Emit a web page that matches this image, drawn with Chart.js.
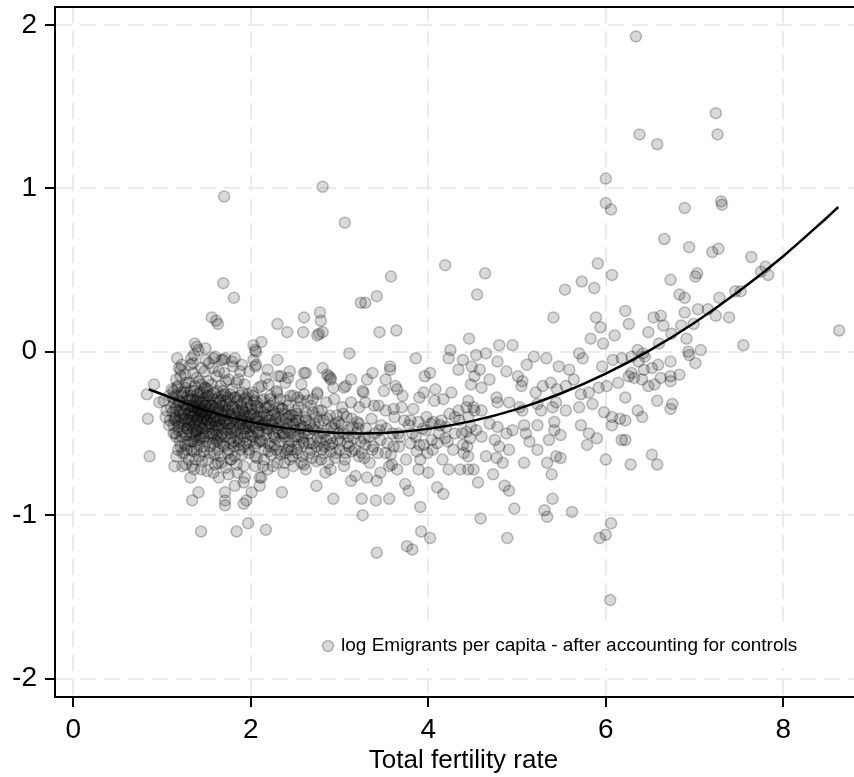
<!DOCTYPE html>
<html>
<head>
<meta charset="utf-8">
<script src="https://cdn.jsdelivr.net/npm/chart.js@4.4.1/dist/chart.umd.min.js"></script>
<style>
  html, body { margin: 0; padding: 0; background: #fff; overflow: hidden; }
  #wrap { width: 854px; height: 777px; overflow: hidden; }
  canvas { display: block; }
</style>
</head>
<body>
<div id="wrap"><canvas id="chart" width="879" height="777"></canvas></div>
<script>
// fitted quadratic
const fitX = [0.85, 1.0, 1.5, 2.0, 2.5, 3.0, 3.5, 4.0, 4.5, 5.0, 5.5, 6.0, 6.5, 7.0, 7.5, 8.0, 8.5, 8.62];
const fitY = [-0.23, -0.26, -0.36, -0.43, -0.475, -0.497, -0.497, -0.472, -0.423, -0.351, -0.254, -0.134, 0.01, 0.178, 0.37, 0.585, 0.825, 0.886];

// points that can be picked out one by one
const spreadPoints = [
  [6.34,1.93],[7.24,1.46],[7.26,1.33],[6.38,1.33],[6.58,1.27],[6.0,1.06],[6.0,0.91],[6.06,0.87],[6.89,0.88],[7.3,0.92],[7.31,0.9],
  [6.66,0.69],[6.94,0.64],[7.2,0.61],[7.27,0.63],[7.64,0.58],[7.8,0.52],[7.75,0.49],[7.83,0.47],[5.91,0.54],[5.73,0.43],[5.87,0.39],
  [5.54,0.38],[6.07,0.47],[6.73,0.44],[7.03,0.48],[7.01,0.46],[6.83,0.35],[6.89,0.33],[7.28,0.33],[7.46,0.37],[7.52,0.37],
  [6.54,0.21],[6.62,0.22],[6.89,0.24],[7.04,0.26],[7.15,0.26],[7.24,0.22],[7.39,0.21],[6.26,0.17],[6.22,0.25],[6.65,0.16],[6.48,0.12],
  [6.74,0.11],[6.85,0.16],[6.99,0.17],[6.91,0.08],[7.07,0.01],[6.93,0.0],[6.94,-0.02],[7.01,-0.07],[7.55,0.04],[8.63,0.13],[6.6,0.05],
  [6.36,0.01],[6.42,-0.01],[6.44,-0.03],[6.73,-0.06],[6.59,-0.08],[6.52,-0.1],[6.43,-0.11],[6.29,-0.13],[6.32,-0.16],[6.26,-0.15],
  [6.62,-0.16],[6.73,-0.15],[6.83,-0.14],[6.73,-0.18],[6.55,-0.2],[6.48,-0.21],[6.22,-0.28],[6.58,-0.3],[6.75,-0.32],[6.73,-0.35],
  [6.36,-0.36],[6.41,-0.4],[6.22,-0.42],[6.22,-0.54],[6.52,-0.63],[6.58,-0.69],[6.28,-0.69],
  [4.64,0.48],[4.55,0.35],[5.41,0.21],[5.89,0.21],[5.94,0.15],[4.46,0.08],[4.8,0.04],[4.95,0.04],[5.83,0.08],[5.97,0.05],[6.1,0.1],
  [4.54,-0.02],[4.65,-0.01],[4.78,-0.06],[5.11,-0.08],[5.19,-0.03],[5.33,-0.04],[5.47,-0.09],[5.59,-0.11],[5.7,-0.01],[5.74,-0.04],
  [5.96,-0.09],[6.08,-0.05],[6.18,-0.04],[6.29,-0.03],[6.37,-0.06],[4.49,-0.09],[4.58,-0.11],[4.88,-0.12],[5.01,-0.15],[4.48,-0.2],
  [4.6,-0.22],[4.69,-0.17],[5.06,-0.18],[5.05,-0.21],[5.21,-0.25],[5.29,-0.21],[5.38,-0.19],[5.45,-0.23],[5.55,-0.21],[5.64,-0.17],
  [5.72,-0.26],[5.81,-0.25],[5.92,-0.22],[6.01,-0.21],[6.14,-0.19],[6.41,-0.17],[4.77,-0.28],[4.78,-0.31],[4.51,-0.34],[4.6,-0.36],
  [4.91,-0.31],[5.03,-0.34],[5.06,-0.36],[5.23,-0.32],[5.27,-0.36],[5.4,-0.34],[5.44,-0.31],[5.55,-0.36],[5.7,-0.34],[5.85,-0.32],
  [5.98,-0.37],[6.07,-0.4],[4.45,-0.4],[4.54,-0.48],[4.43,-0.49],[4.69,-0.44],[4.78,-0.46],[4.88,-0.5],[4.95,-0.48],[5.08,-0.45],
  [5.1,-0.5],[5.23,-0.45],[5.42,-0.43],[5.42,-0.48],[5.72,-0.45],[5.81,-0.5],[5.9,-0.53],[6.07,-0.45],[6.16,-0.41],[6.18,-0.54],
  [4.6,-0.52],[4.75,-0.54],[4.8,-0.58],[4.91,-0.6],[5.14,-0.55],[5.23,-0.6],[5.36,-0.54],[5.49,-0.51],[5.44,-0.64],[5.49,-0.65],
  [5.79,-0.57],[6.0,-0.66],[4.45,-0.64],[4.65,-0.64],[4.77,-0.65],[4.84,-0.68],[4.51,-0.72],[4.56,-0.8],[4.73,-0.75],[5.08,-0.68],
  [5.34,-0.68],[5.39,-0.75],[4.86,-0.82],[4.91,-0.85],[4.97,-0.96],[5.31,-0.97],[5.34,-1.01],[5.4,-0.9],[5.62,-0.98],[4.59,-1.02],[6.06,-1.05],
  [1.44,-1.1],[1.84,-1.1],[1.97,-1.05],[2.17,-1.09],[2.93,-0.9],[3.25,-0.9],[3.26,-1.0],[3.41,-0.91],[3.56,-0.9],[3.91,-0.95],
  [3.42,-1.23],[3.76,-1.19],[3.82,-1.21],[3.92,-1.1],[4.02,-1.14],[4.89,-1.14],[5.93,-1.14],[6.0,-1.12],[6.05,-1.52],[2.91,-1.73],
  [1.7,0.95],[2.81,1.01],[3.06,0.79],[4.19,0.53],[3.58,0.46],[1.69,0.42],
  [1.81,0.33],[1.56,0.21],[1.61,0.19],[1.63,0.17],[2.3,0.17],[2.41,0.12],[2.59,0.12],[2.6,0.21],[2.12,0.06],[2.03,0.04],[2.05,0.01],
  [2.03,-0.05],[1.37,0.05],[1.41,0.01],[1.49,0.02],[1.17,-0.04],[1.33,-0.04],[1.19,-0.1],[1.49,-0.05],[1.6,-0.03],[1.71,-0.04],
  [1.82,-0.04],[1.9,-0.08],[2.19,-0.11],[2.34,-0.15],[2.42,-0.16],[0.91,-0.2],[0.83,-0.26],[1.11,-0.23],[0.84,-0.41],[1.08,-0.45],
  [0.86,-0.64],[1.14,-0.7],[1.32,-0.77],[1.41,-0.86],[1.34,-0.91],[1.23,-0.62],[1.36,-0.61],[1.63,-0.68],[1.64,-0.77],[1.75,-0.75],
  [1.82,-0.82],[1.93,-0.77],[1.71,-0.86],[1.71,-0.91],[1.71,-0.94],[1.92,-0.93],[1.95,-0.91],[2.01,-0.86],[2.1,-0.82],[2.1,-0.77],
  [2.19,-0.72],[2.35,-0.86],
  [1.39,0.03],[2.06,0.0],[1.58,-0.04],[1.69,-0.05],[2.05,-0.09],[2.31,-0.15],[2.6,-0.13],[2.9,-0.16],[2.86,-0.14],[3.05,-0.22],
  [2.59,-0.46],[2.05,-0.7],[1.92,-0.8],
  [3.24,0.3],[3.29,0.3],[3.42,0.34],[2.78,0.24],[2.79,0.19],[2.75,0.1],[2.77,0.11],[2.81,0.12],[3.45,0.12],[3.64,0.13],[3.11,-0.01],
  [3.86,-0.04],[4.25,0.01],[4.23,-0.04],[4.39,-0.05],[4.34,-0.11],[2.62,-0.13],[2.81,-0.1],[2.88,-0.15],[2.9,-0.17],[3.07,-0.21],
  [3.13,-0.17],[3.26,-0.24],[3.31,-0.17],[3.37,-0.13],[3.52,-0.17],[3.57,-0.09],[3.57,-0.11],[3.63,-0.21],[3.65,-0.23],[3.96,-0.15],
  [4.02,-0.13],[4.08,-0.23],[4.17,-0.29],[3.95,-0.25],[4.52,-0.15],
  [2.53,-0.28],[2.6,-0.26],[2.7,-0.29],[2.75,-0.26],[2.85,-0.31],[2.94,-0.29],[3.03,-0.34],[3.13,-0.31],[3.22,-0.34],[3.29,-0.31],
  [3.39,-0.33],[3.44,-0.33],[3.52,-0.36],[3.61,-0.35],[3.7,-0.34],[3.8,-0.42],[3.89,-0.43],[3.98,-0.4],[4.06,-0.43],[4.15,-0.42],
  [4.24,-0.38],[4.34,-0.36],[4.43,-0.34],[4.52,-0.36],
  [2.53,-0.52],[2.6,-0.56],[2.68,-0.6],[2.75,-0.53],[2.83,-0.58],[2.9,-0.61],[2.98,-0.54],[3.07,-0.62],[3.14,-0.61],[3.22,-0.64],
  [3.29,-0.57],[3.37,-0.6],[3.46,-0.54],[3.54,-0.56],[3.61,-0.58],[3.68,-0.52],[3.8,-0.56],[3.87,-0.61],[3.95,-0.57],[4.04,-0.54],
  [4.1,-0.56],[4.19,-0.53],[4.28,-0.6],[4.39,-0.57],[4.47,-0.53],
  [2.57,-0.68],[2.74,-0.82],[2.9,-0.72],[3.13,-0.79],[3.31,-0.77],[3.42,-0.79],[3.46,-0.74],[3.56,-0.7],[3.59,-0.69],[3.65,-0.72],
  [3.74,-0.81],[3.78,-0.85],[3.89,-0.72],[3.91,-0.66],[4.0,-0.74],[4.1,-0.83],[4.17,-0.87],[4.23,-0.72],[4.36,-0.72],[4.45,-0.72]
];

// the dark cloud round the low fertility end, estimated
const corePoints = [
  [0.97,-0.31],[1.02,-0.3],[1.04,-0.4],[1.05,-0.36],[1.08,-0.27],[1.09,-0.42],[1.1,-0.34],
  [1.12,-0.28],[1.14,-0.41],[1.15,-0.35],[1.16,-0.52],[1.17,-0.22],[1.18,-0.46],[1.19,-0.31],[1.2,-0.39],[1.21,-0.58],[1.21,-0.15],
  [1.22,-0.44],[1.23,-0.27],[1.24,-0.36],[1.24,-0.49],[1.25,-0.62],[1.26,-0.33],[1.26,-0.41],[1.27,-0.19],[1.28,-0.47],[1.28,-0.3],
  [1.29,-0.55],[1.3,-0.38],[1.13,-0.5],[1.18,-0.6],[1.22,-0.08],[1.27,-0.69],[1.15,-0.42],[1.25,-0.25],[1.19,-0.36],[1.29,-0.43],
  [1.31,-0.33],[1.31,-0.51],[1.32,-0.24],[1.32,-0.42],[1.33,-0.37],[1.33,-0.6],[1.34,-0.29],[1.34,-0.46],[1.35,-0.39],[1.35,-0.13],
  [1.36,-0.53],[1.36,-0.34],[1.37,-0.44],[1.37,-0.21],[1.38,-0.66],[1.38,-0.38],[1.39,-0.31],[1.39,-0.49],[1.4,-0.41],[1.4,-0.26],
  [1.41,-0.57],[1.41,-0.35],[1.42,-0.45],[1.42,-0.18],[1.43,-0.39],[1.43,-0.52],[1.44,-0.3],[1.44,-0.72],[1.45,-0.43],[1.45,-0.36],
  [1.46,-0.25],[1.46,-0.5],[1.47,-0.4],[1.47,-0.61],[1.48,-0.33],[1.48,-0.47],[1.49,-0.22],[1.49,-0.38],[1.5,-0.55],[1.5,-0.42],
  [1.32,-0.08],[1.36,-0.02],[1.44,-0.1],[1.34,-0.7],[1.42,-0.64],[1.38,-0.48],[1.46,-0.37],[1.4,-0.33],
  [1.51,-0.31],[1.52,-0.46],[1.52,-0.27],[1.53,-0.39],[1.54,-0.58],[1.54,-0.35],[1.55,-0.44],[1.56,-0.2],[1.56,-0.51],[1.57,-0.37],
  [1.58,-0.42],[1.58,-0.29],[1.59,-0.63],[1.6,-0.34],[1.6,-0.48],[1.61,-0.4],[1.62,-0.24],[1.62,-0.55],[1.63,-0.36],[1.64,-0.45],
  [1.64,-0.12],[1.65,-0.31],[1.66,-0.52],[1.66,-0.41],[1.67,-0.68],[1.68,-0.37],[1.68,-0.27],[1.69,-0.47],[1.7,-0.39],[1.7,-0.58],
  [1.71,-0.33],[1.72,-0.43],[1.72,-0.18],[1.73,-0.5],[1.74,-0.36],[1.74,-0.62],[1.75,-0.41],[1.53,-0.07],[1.58,-0.74],[1.63,-0.6],
  [1.67,-0.05],[1.71,-0.26],[1.55,-0.33],[1.61,-0.45],[1.69,-0.38],[1.57,-0.5],
  [1.76,-0.3],[1.77,-0.47],[1.78,-0.38],[1.78,-0.56],[1.79,-0.23],[1.8,-0.42],[1.81,-0.34],[1.82,-0.64],[1.82,-0.49],[1.83,-0.28],
  [1.84,-0.4],[1.85,-0.53],[1.86,-0.17],[1.86,-0.36],[1.87,-0.45],[1.88,-0.6],[1.89,-0.32],[1.9,-0.5],[1.9,-0.41],[1.91,-0.25],
  [1.92,-0.7],[1.93,-0.37],[1.94,-0.47],[1.95,-0.56],[1.96,-0.31],[1.97,-0.43],[1.98,-0.12],[1.98,-0.62],[1.99,-0.39],[2.0,-0.51],
  [1.8,-0.09],[1.85,-0.74],[1.93,-0.2],[1.77,-0.66],[1.88,-0.44],
  [2.01,-0.35],[2.02,-0.46],[2.03,-0.27],[2.04,-0.58],[2.05,-0.41],[2.06,-0.33],[2.07,-0.65],[2.08,-0.49],[2.09,-0.22],[2.1,-0.4],
  [2.11,-0.54],[2.12,-0.3],[2.13,-0.45],[2.14,-0.7],[2.15,-0.37],[2.16,-0.6],[2.17,-0.16],[2.18,-0.48],[2.19,-0.34],[2.2,-0.56],
  [2.21,-0.42],[2.22,-0.27],[2.23,-0.63],[2.24,-0.39],[2.25,-0.5],[2.06,-0.08],[2.12,-0.77],[2.2,-0.2],[2.14,-0.44],
  [2.26,-0.31],[2.27,-0.57],[2.28,-0.43],[2.29,-0.24],[2.3,-0.68],[2.31,-0.38],[2.32,-0.5],[2.33,-0.29],[2.34,-0.61],[2.35,-0.45],
  [2.36,-0.35],[2.37,-0.74],[2.38,-0.52],[2.39,-0.19],[2.4,-0.41],[2.41,-0.6],[2.42,-0.33],[2.43,-0.48],[2.44,-0.66],[2.45,-0.27],
  [2.46,-0.55],[2.47,-0.39],[2.48,-0.7],[2.49,-0.46],[2.5,-0.36],[2.3,-0.05],[2.44,-0.12],
  [2.51,-0.42],[2.53,-0.62],[2.54,-0.34],[2.56,-0.47],[2.57,-0.2],[2.59,-0.55],[2.61,-0.4],[2.62,-0.72],[2.64,-0.3],[2.65,-0.5],
  [2.67,-0.44],[2.69,-0.65],[2.7,-0.37],[2.72,-0.48],[2.74,-0.58],[2.75,-0.25],
  [2.77,-0.43],[2.79,-0.66],[2.8,-0.36],[2.82,-0.5],[2.84,-0.74],[2.86,-0.41],[2.88,-0.57],[2.91,-0.46],[2.93,-0.22],[2.95,-0.65],
  [2.97,-0.39],[2.99,-0.5],
  [3.02,-0.45],[3.05,-0.7],[3.08,-0.4],[3.1,-0.52],[3.15,-0.46],[3.18,-0.76],[3.2,-0.43],[3.24,-0.55],[3.27,-0.25],[3.3,-0.47],
  [3.34,-0.68],[3.36,-0.41],[3.4,-0.5],[3.43,-0.62],[3.47,-0.45],[3.5,-0.24],
  [3.53,-0.47],[3.58,-0.63],[3.62,-0.4],[3.66,-0.5],[3.71,-0.27],[3.75,-0.66],[3.78,-0.45],[3.83,-0.35],[3.86,-0.52],[3.9,-0.28],
  [3.94,-0.47],[3.99,-0.62],[4.03,-0.44],[4.07,-0.3],[4.12,-0.5],[4.16,-0.66],[4.2,-0.46],[4.26,-0.25],[4.3,-0.5],[4.35,-0.42],
  [4.4,-0.62],[4.45,-0.3],[4.48,-0.46]
];

// second, thicker layer of the same cloud where the markers pile up
const denseCore = [
  [1.12,-0.37],[1.13,-0.24],[1.13,-0.45],[1.14,-0.31],[1.15,-0.5],[1.16,-0.27],[1.16,-0.4],[1.17,-0.33],[1.18,-0.43],[1.18,-0.21],
  [1.19,-0.48],[1.2,-0.3],[1.21,-0.37],[1.22,-0.52],[1.22,-0.25],[1.23,-0.41],[1.24,-0.32],[1.25,-0.45],[1.25,-0.38],[1.26,-0.22],
  [1.27,-0.51],[1.28,-0.35],[1.29,-0.27],[1.29,-0.47],[1.3,-0.42],
  [1.31,-0.29],[1.31,-0.44],[1.32,-0.36],[1.33,-0.5],[1.33,-0.27],[1.34,-0.4],[1.35,-0.33],[1.35,-0.55],[1.36,-0.45],[1.36,-0.24],
  [1.37,-0.37],[1.38,-0.3],[1.38,-0.52],[1.39,-0.42],[1.4,-0.36],[1.4,-0.48],[1.41,-0.28],[1.41,-0.4],[1.42,-0.33],[1.43,-0.46],
  [1.43,-0.25],[1.44,-0.38],[1.44,-0.53],[1.45,-0.31],[1.45,-0.47],[1.46,-0.41],[1.47,-0.29],[1.47,-0.52],[1.48,-0.39],[1.48,-0.22],
  [1.49,-0.45],[1.49,-0.33],[1.5,-0.37],[1.5,-0.27],[1.34,-0.34],
  [1.51,-0.42],[1.51,-0.23],[1.52,-0.36],[1.53,-0.5],[1.53,-0.3],[1.54,-0.44],[1.55,-0.38],[1.56,-0.27],[1.56,-0.46],[1.57,-0.33],
  [1.58,-0.53],[1.58,-0.4],[1.59,-0.25],[1.6,-0.43],[1.61,-0.31],[1.61,-0.51],[1.62,-0.38],[1.63,-0.46],[1.63,-0.28],[1.64,-0.35],
  [1.65,-0.42],[1.65,-0.56],[1.66,-0.3],[1.67,-0.45],[1.68,-0.33],[1.68,-0.5],[1.69,-0.24],[1.7,-0.42],[1.71,-0.37],[1.71,-0.52],
  [1.72,-0.3],[1.73,-0.44],[1.74,-0.28],[1.74,-0.48],[1.75,-0.35],
  [1.76,-0.44],[1.77,-0.26],[1.77,-0.39],[1.78,-0.5],[1.79,-0.33],[1.8,-0.46],[1.81,-0.28],[1.81,-0.55],[1.82,-0.41],[1.83,-0.35],
  [1.84,-0.48],[1.85,-0.3],[1.85,-0.43],[1.86,-0.57],[1.87,-0.37],[1.88,-0.27],[1.88,-0.5],[1.89,-0.42],[1.9,-0.34],[1.91,-0.47],
  [1.92,-0.39],[1.92,-0.58],[1.93,-0.29],[1.94,-0.43],[1.95,-0.35],[1.96,-0.5],[1.97,-0.26],[1.97,-0.4],[1.98,-0.46],[1.99,-0.55],
  [2.0,-0.33],[2.01,-0.44],[2.02,-0.52],[2.03,-0.38],[2.04,-0.3],[2.05,-0.47],[2.06,-0.56],[2.07,-0.4],[2.08,-0.34],[2.09,-0.5],
  [2.1,-0.45],[2.12,-0.37],[2.13,-0.55],[2.14,-0.29],[2.16,-0.44],[2.17,-0.51],[2.18,-0.39],[2.2,-0.47],[2.21,-0.33],[2.22,-0.58],
  [2.24,-0.45],[2.25,-0.36],[2.26,-0.52],[2.28,-0.41],[2.29,-0.6],[2.3,-0.47],[2.32,-0.34],[2.33,-0.55],[2.35,-0.42],[2.36,-0.5],
  [2.38,-0.38],[2.39,-0.62],[2.4,-0.47],[2.42,-0.55],[2.43,-0.4],[2.45,-0.5],[2.46,-0.6],[2.48,-0.44],[2.5,-0.52],[2.52,-0.38],
  [2.54,-0.57],[2.56,-0.45],[2.58,-0.64],[2.6,-0.5],[2.62,-0.42],
  [2.66,-0.56],[2.7,-0.47],[2.74,-0.4],[2.78,-0.55],[2.82,-0.62],[2.86,-0.48],[2.9,-0.53],[2.95,-0.44],[3.0,-0.6],[3.04,-0.5],
  [3.09,-0.56],[3.16,-0.53],[3.21,-0.47],[3.28,-0.65],[3.33,-0.52],[3.38,-0.58],[3.45,-0.48],[3.52,-0.62],[3.6,-0.5],[3.67,-0.58],
  [3.73,-0.42],[3.82,-0.5],[3.9,-0.57],[3.97,-0.48],[4.05,-0.6],[4.13,-0.45],[4.22,-0.55],[4.3,-0.4],[4.38,-0.5],[4.44,-0.58]
];

// edges of the cloud: lower and upper fringe, and the tail towards 3
const coreFringe = [
  [1.16,-0.64],[1.2,-0.55],[1.23,-0.7],[1.26,-0.57],[1.3,-0.66],[1.33,-0.55],[1.36,-0.72],[1.39,-0.6],[1.42,-0.54],[1.45,-0.67],
  [1.48,-0.58],[1.51,-0.73],[1.54,-0.62],[1.57,-0.56],[1.6,-0.69],[1.63,-0.53],[1.66,-0.64],[1.69,-0.57],[1.72,-0.71],[1.75,-0.6],
  [1.78,-0.66],[1.81,-0.58],[1.84,-0.69],[1.87,-0.55],[1.9,-0.63],[1.28,-0.6],[1.52,-0.66],[1.77,-0.53],
  [1.16,-0.17],[1.21,-0.11],[1.26,-0.14],[1.3,-0.19],[1.35,-0.07],[1.39,-0.16],[1.44,-0.2],[1.48,-0.12],[1.52,-0.18],[1.57,-0.1],
  [1.61,-0.15],[1.66,-0.21],[1.7,-0.13],[1.75,-0.17],[1.79,-0.06],[1.84,-0.19],[1.88,-0.12],
  [1.91,-0.36],[1.93,-0.52],[1.95,-0.28],[1.96,-0.44],[1.98,-0.6],[2.0,-0.38],[2.02,-0.25],[2.03,-0.49],[2.05,-0.64],[2.07,-0.31],
  [2.08,-0.43],[2.1,-0.55],[2.12,-0.21],[2.13,-0.4],[2.15,-0.66],[2.17,-0.34],[2.18,-0.47],[2.2,-0.61],[2.22,-0.29],[2.23,-0.44],
  [2.25,-0.7],[2.27,-0.38],[2.28,-0.53],[2.3,-0.25],[2.32,-0.45],[2.33,-0.63],[2.35,-0.35],[2.37,-0.5],[2.38,-0.68],[2.4,-0.3],
  [2.42,-0.44],[2.43,-0.58],[2.45,-0.39],[2.47,-0.64],[2.48,-0.27],[2.5,-0.48],[2.52,-0.6],[2.54,-0.42],[2.56,-0.3],[2.58,-0.53],
  [2.6,-0.69],[2.62,-0.37],[2.64,-0.48],[2.66,-0.62],[2.68,-0.33],[2.7,-0.56],[2.72,-0.44],[2.74,-0.67],[2.76,-0.36],[2.78,-0.5],
  [2.8,-0.6],[2.82,-0.42],[2.85,-0.54],[2.87,-0.68],[2.89,-0.39],[2.92,-0.56],[2.94,-0.47],[2.96,-0.62],[2.99,-0.43],[3.01,-0.55],
  [3.04,-0.38],[3.06,-0.66],[3.09,-0.48],[3.11,-0.58],[3.14,-0.41],[3.17,-0.6],[3.19,-0.5],[3.22,-0.44],[3.25,-0.62],[3.28,-0.53]
];

const xTicks = [0, 2, 4, 6, 8];
const yTicks = [-2, -1, 0, 1, 2];
const seriesLabel = 'log Emigrants per capita - after accounting for controls';
const xTitle = 'Total fertility rate';

const FONT = '"Liberation Sans", Arial, Helvetica, sans-serif';
const pointFill = 'rgba(0,0,0,0.15)';
const pointEdge = 'rgba(0,0,0,0.25)';

const scatterData = spreadPoints.concat(corePoints, denseCore, coreFringe).map(p => ({ x: p[0], y: p[1] }));
const fitData = fitX.map((x, i) => ({ x: x, y: fitY[i] }));

// legend sits inside the plot on a white box, on top of the markers
const insideLegend = {
  id: 'insideLegend',
  afterDatasetsDraw(chart) {
    const { ctx, chartArea } = chart;
    const top = chartArea.bottom - 76, h = 47;
    ctx.save();
    ctx.fillStyle = '#fff';
    ctx.fillRect(300, top, chartArea.right - 300, h);
    const cy = top + 25;
    ctx.beginPath();
    ctx.arc(328, cy, 5.5, 0, Math.PI * 2);
    ctx.fillStyle = pointFill;
    ctx.fill();
    ctx.lineWidth = 1.5;
    ctx.strokeStyle = pointEdge;
    ctx.stroke();
    ctx.fillStyle = '#000';
    ctx.font = '19px ' + FONT;
    ctx.textBaseline = 'middle';
    ctx.fillText(chart.data.datasets[1].label, 341, cy);
    ctx.restore();
  }
};

// top edge of the plot frame
const frameTop = {
  id: 'frameTop',
  afterDraw(chart) {
    const { ctx, chartArea } = chart;
    ctx.save();
    ctx.strokeStyle = '#000';
    ctx.lineWidth = 2;
    ctx.beginPath();
    ctx.moveTo(chartArea.left - 1, chartArea.top);
    ctx.lineTo(chartArea.right, chartArea.top);
    ctx.stroke();
    ctx.restore();
  }
};

const gridOpts = {
  color: '#ebebeb',
  lineWidth: 2,
  tickLength: 10,
  tickColor: '#000',
  tickWidth: 2,
  tickBorderDash: []
};

new Chart(document.getElementById('chart').getContext('2d'), {
  type: 'scatter',
  data: {
    datasets: [
      {
        label: 'fit',
        data: fitData,
        showLine: true,
        borderColor: '#000',
        borderWidth: 2.5,
        pointRadius: 0,
        tension: 0.35,
        order: 0
      },
      {
        label: seriesLabel,
        data: scatterData,
        backgroundColor: pointFill,
        borderColor: pointEdge,
        borderWidth: 1.5,
        pointRadius: 5.5,
        order: 1
      }
    ]
  },
  options: {
    responsive: false,
    animation: false,
    devicePixelRatio: 1,
    layout: { padding: { top: 6, right: 0, left: 0, bottom: 0 } },
    plugins: {
      legend: { display: false },
      tooltip: { enabled: false }
    },
    scales: {
      x: {
        type: 'linear',
        min: -0.206,
        max: 9.0,
        afterBuildTicks: s => { s.ticks = xTicks.map(v => ({ value: v })); },
        afterFit: s => { s.height = 80; s.paddingLeft = 0; s.paddingRight = 0; },
        grid: gridOpts,
        border: { color: '#000', width: 2, dash: [16, 8] },
        ticks: { color: '#000', font: { family: FONT, size: 28 }, padding: 6, maxRotation: 0 },
        title: {
          display: true,
          text: xTitle,
          color: '#000',
          font: { family: FONT, size: 26 },
          padding: { top: 0, bottom: 1 }
        }
      },
      y: {
        type: 'linear',
        min: -2.113,
        max: 2.11,
        afterBuildTicks: s => { s.ticks = yTicks.map(v => ({ value: v })); },
        afterFit: s => { s.width = 55; s.paddingTop = 0; s.paddingBottom = 0; },
        grid: gridOpts,
        border: { color: '#000', width: 2, dash: [16, 8] },
        ticks: { color: '#000', font: { family: FONT, size: 28 }, padding: 8 }
      }
    }
  },
  plugins: [insideLegend, frameTop]
});
</script>
</body>
</html>
